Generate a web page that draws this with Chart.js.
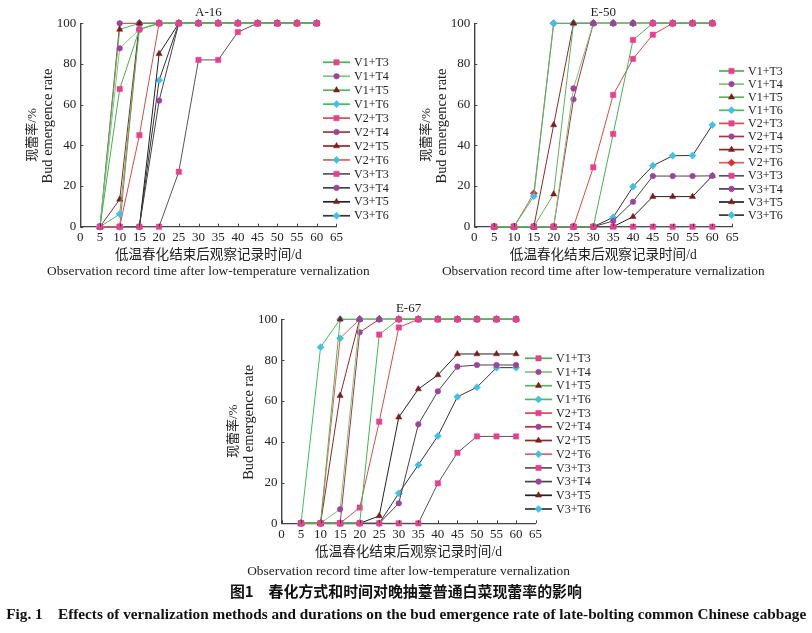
<!DOCTYPE html>
<html>
<head>
<meta charset="utf-8">
<script src="https://cdn.jsdelivr.net/npm/chart.js@4.4.0/dist/chart.umd.min.js"></script>
<style>
  body { margin: 0; background: #fff; width: 812px; height: 633px; position: relative; overflow: hidden; }
  canvas { position: absolute; left: 0; top: 0; }
  .cap { position: absolute; left: 0; width: 812px; text-align: center; white-space: nowrap; color: #111; font-weight: bold; }
  .cap span { display: inline-block; transform-origin: center; }
</style>
</head>
<body>
<canvas id="a16" width="812" height="633"></canvas>
<canvas id="e50" width="812" height="633"></canvas>
<canvas id="e67" width="812" height="633"></canvas>
<div class="cap" id="capCn" style="top:580px;font-family:'Noto Sans CJK SC';font-size:15px;"><span>图1　春化方式和时间对晚抽薹普通白菜现蕾率的影响</span></div>
<div class="cap" id="capEn" style="top:606px;font-family:'Liberation Serif';font-size:14px;"><span>Fig. 1　Effects of vernalization methods and durations on the bud emergence rate of late-bolting common Chinese cabbage</span></div>
<script>
// data
const days = [5, 10, 15, 20, 25, 30, 35, 40, 45, 50, 55, 60];
const seriesNames = ['V1+T3', 'V1+T4', 'V1+T5', 'V1+T6',
                     'V2+T3', 'V2+T4', 'V2+T5', 'V2+T6',
                     'V3+T3', 'V3+T4', 'V3+T5', 'V3+T6'];
const yTitle = ['现蕾率/%', 'Bud emergence rate'];
const xTitle = ['低温春化结束后观察记录时间/d', 'Observation record time after low-temperature vernalization'];

// A-16, one row per series (same order as seriesNames)
const a16Rates = [
  [0, 67.7, 97, 100, 100, 100, 100, 100, 100, 100, 100, 100],
  [0, 87.7, 97, 100, 100, 100, 100, 100, 100, 100, 100, 100],
  [0, 97, 100, 100, 100, 100, 100, 100, 100, 100, 100, 100],
  [0, 6.2, 97, 100, 100, 100, 100, 100, 100, 100, 100, 100],
  [0, 0, 45, 100, 100, 100, 100, 100, 100, 100, 100, 100],
  [0, 100, 100, 100, 100, 100, 100, 100, 100, 100, 100, 100],
  [0, 13.4, 100, 100, 100, 100, 100, 100, 100, 100, 100, 100],
  [0, 0, 100, 100, 100, 100, 100, 100, 100, 100, 100, 100],
  [0, 0, 0, 0, 27, 82, 82, 95.7, 100, 100, 100, 100],
  [0, 0, 0, 62, 100, 100, 100, 100, 100, 100, 100, 100],
  [0, 0, 0, 85, 100, 100, 100, 100, 100, 100, 100, 100],
  [0, 0, 0, 72, 100, 100, 100, 100, 100, 100, 100, 100]
];

// E-50
const e50Rates = [
  [0, 0, 0, 0, 0, 0, 45.6, 91.8, 100, 100, 100, 100],
  [0, 0, 0, 0, 68, 100, 100, 100, 100, 100, 100, 100],
  [0, 0, 0, 16, 100, 100, 100, 100, 100, 100, 100, 100],
  [0, 0, 15, 100, 100, 100, 100, 100, 100, 100, 100, 100],
  [0, 0, 0, 0, 0, 29.2, 64.8, 82.5, 94.4, 100, 100, 100],
  [0, 0, 0, 0, 62.6, 100, 100, 100, 100, 100, 100, 100],
  [0, 0, 0, 50, 100, 100, 100, 100, 100, 100, 100, 100],
  [0, 0, 16.4, 100, 100, 100, 100, 100, 100, 100, 100, 100],
  [0, 0, 0, 0, 0, 0, 0, 0, 0, 0, 0, 0],
  [0, 0, 0, 0, 0, 0, 2.8, 12.3, 24.9, 24.9, 24.9, 25],
  [0, 0, 0, 0, 0, 0, 0, 4.9, 14.8, 14.8, 14.8, 25],
  [0, 0, 0, 0, 0, 0, 4.6, 19.7, 30, 34.9, 35, 50]
];

// E-67
const e67Rates = [
  [0, 0, 0, 0, 92.5, 100, 100, 100, 100, 100, 100, 100],
  [0, 0, 6.9, 100, 100, 100, 100, 100, 100, 100, 100, 100],
  [0, 0, 100, 100, 100, 100, 100, 100, 100, 100, 100, 100],
  [0, 86.3, 100, 100, 100, 100, 100, 100, 100, 100, 100, 100],
  [0, 0, 0, 7.7, 49.8, 96, 100, 100, 100, 100, 100, 100],
  [0, 0, 0, 93.6, 100, 100, 100, 100, 100, 100, 100, 100],
  [0, 0, 62.6, 100, 100, 100, 100, 100, 100, 100, 100, 100],
  [0, 0, 90.7, 100, 100, 100, 100, 100, 100, 100, 100, 100],
  [0, 0, 0, 0, 0, 0, 0, 19.6, 34.6, 42.6, 42.6, 42.6],
  [0, 0, 0, 0, 0, 9.8, 48.5, 64.7, 76.8, 77.6, 77.6, 77.6],
  [0, 0, 0, 0, 3.6, 52, 65.8, 72.7, 83, 83, 83, 83],
  [0, 0, 0, 0, 0, 14.7, 28.6, 42.8, 62, 66.7, 76.3, 76.3]
];

// styles
const lineColors = ['#45b550', '#7cc57c', '#5bb35b', '#3fbf5f',
                    '#d0504a', '#a8363c', '#8e2a2a', '#d8605c',
                    '#555555', '#444444', '#222222', '#333333'];
const markColors = ['#e8408f', '#9b449e', '#7a1c1c', '#3fc0e6'];
const markStyles = ['rect', 'circle', 'triangle', 'rectRot'];
const markRadius = [3.8, 2.8, 3.6, 3.6];
const serif = "'Liberation Serif', 'Noto Sans CJK SC'";

// pick a font size so the text takes the width it has in the figure
function fitFont(ctx, text, width) {
  ctx.font = '20px ' + serif;
  const size = 20 * width / ctx.measureText(text).width;
  return size.toFixed(2) + 'px ' + serif;
}

const decor = {
  id: 'decor',
  afterDraw(chart, args, o) {
    const ctx = chart.ctx;
    const area = chart.chartArea;
    const xs = chart.scales.x, ys = chart.scales.y;
    ctx.save();
    // inward tick marks
    ctx.strokeStyle = '#444';
    ctx.lineWidth = 1;
    ctx.beginPath();
    xs.ticks.forEach(t => {
      const px = Math.round(xs.getPixelForValue(t.value)) + 0.5;
      ctx.moveTo(px, area.bottom);
      ctx.lineTo(px, area.bottom - 3);
    });
    ys.ticks.forEach(t => {
      const py = Math.round(ys.getPixelForValue(t.value)) + 0.5;
      ctx.moveTo(area.left, py);
      ctx.lineTo(area.left + 3, py);
    });
    ctx.stroke();
    ctx.fillStyle = '#222';
    ctx.textAlign = 'center';
    ctx.textBaseline = 'middle';
    // panel title
    ctx.font = '13px ' + serif;
    const mid = (area.left + area.right) / 2;
    ctx.fillText(o.title, mid, area.top - 11);
    // axis titles
    ctx.font = fitFont(ctx, xTitle[0], 187);
    ctx.fillText(xTitle[0], mid, o.xTitleY[0]);
    ctx.font = fitFont(ctx, xTitle[1], 323);
    ctx.fillText(xTitle[1], mid, o.xTitleY[1]);
    const vmid = (area.top + area.bottom) / 2;
    [[yTitle[0], '13px ' + serif, -48, 10], [yTitle[1], fitFont(ctx, yTitle[1], 115), -32, 1]].forEach(([txt, font, dx, dy]) => {
      ctx.save();
      ctx.translate(area.left + dx, vmid + dy);
      ctx.rotate(-Math.PI / 2);
      ctx.font = font;
      ctx.fillText(txt, 0, 0);
      ctx.restore();
    });
    // legend
    ctx.font = '12px ' + serif;
    ctx.textAlign = 'left';
    chart.data.datasets.forEach((ds, i) => {
      const y = o.legendY + i * o.legendGap;
      ctx.strokeStyle = ds.borderColor;
      ctx.lineWidth = 1.7;
      ctx.beginPath();
      ctx.moveTo(o.legendX, y);
      ctx.lineTo(o.legendX + o.legendLen, y);
      ctx.stroke();
      ctx.fillStyle = ds.pointBackgroundColor;
      ctx.strokeStyle = ds.pointBorderColor;
      ctx.lineWidth = 0.5;
      Chart.helpers.drawPoint(ctx, {pointStyle: ds.pointStyle, radius: ds.pointRadius, rotation: 0, borderWidth: 0.5},
        o.legendX + o.legendLen / 2, y);
      ctx.fillStyle = '#222';
      ctx.fillText(ds.label, o.legendX + o.legendLen + 4, y + 0.5);
    });
    ctx.restore();
  }
};

function makeDatasets(rates, redT6) {
  return rates.map((row, k) => {
    const t = k % 4;
    let mc = markColors[t];
    if (redT6 && k === 7) mc = '#e52b2b';
    return {
      label: seriesNames[k],
      data: days.map((d, i) => ({x: d, y: row[i]})),
      borderColor: lineColors[k],
      backgroundColor: mc,
      pointBackgroundColor: mc,
      pointBorderColor: mc,
      pointBorderWidth: 0.5,
      pointStyle: markStyles[t],
      pointRadius: markRadius[t],
      borderWidth: 1,
      tension: 0,
      clip: false
    };
  });
}

function makeChart(id, rates, box, deco, redT6) {
  const axisFont = {family: serif, size: 13};
  new Chart(document.getElementById(id), {
    type: 'line',
    data: {datasets: makeDatasets(rates, redT6)},
    plugins: [decor],
    options: {
      responsive: false,
      animation: false,
      events: [],
      layout: {
        padding: {
          left: box.left - 58.5,
          top: box.top,
          right: 812 - box.right,
          bottom: 633 - box.bottom - box.xh
        }
      },
      scales: {
        x: {
          type: 'linear', min: 0, max: 65,
          ticks: {stepSize: 5, color: '#222', font: axisFont, padding: 3},
          grid: {display: false, drawTicks: false},
          border: {display: true, color: '#444', width: 1.2},
          afterFit(s) { s.height = box.xh; }
        },
        y: {
          min: 0, max: 100,
          ticks: {stepSize: 20, color: '#222', font: axisFont, padding: 4},
          grid: {display: false, drawTicks: false},
          border: {display: true, color: '#444', width: 1.4},
          afterFit(s) { s.width = 58.5; }
        }
      },
      plugins: {
        legend: {display: false},
        tooltip: {enabled: false},
        decor: deco
      }
    }
  });
}

makeChart('a16', a16Rates, {left: 80.3, right: 336.4, top: 23.3, bottom: 226.7, xh: 52.8},
  {title: 'A-16', legendX: 323, legendLen: 27, legendY: 62.3, legendGap: 13.95, xTitleY: [255, 271.5]});
makeChart('e50', e50Rates, {left: 474.3, right: 732.2, top: 23.3, bottom: 226.7, xh: 52.8},
  {title: 'E-50', legendX: 719, legendLen: 25, legendY: 71, legendGap: 13.1, xTitleY: [255, 271.5]}, true);
makeChart('e67', e67Rates, {left: 281.5, right: 535.6, top: 319.3, bottom: 523.3, xh: 56.2},
  {title: 'E-67', legendX: 525, legendLen: 27, legendY: 358.3, legendGap: 13.7, xTitleY: [552, 571]});

// fit the captions to the reference widths
[['#capEn span', 800], ['#capCn span', 352]].forEach(([sel, target]) => {
  const el = document.querySelector(sel);
  const w = el.getBoundingClientRect().width;
  el.style.transform = 'scaleX(' + (target / w).toFixed(3) + ')';
});
</script>
</body>
</html>
